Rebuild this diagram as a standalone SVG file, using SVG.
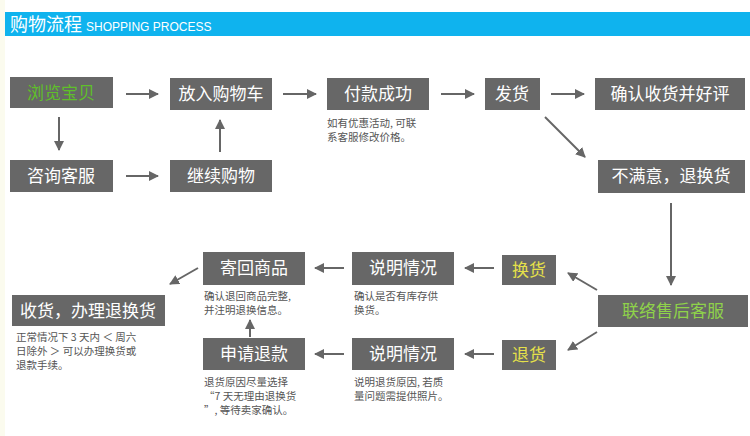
<svg xmlns="http://www.w3.org/2000/svg" width="750" height="436" viewBox="0 0 750 436">
<style>
.b{fill:#676767}
.t{font-family:"Noto Sans CJK SC",sans-serif;font-size:17px;fill:#fff;text-anchor:middle}
.s{font-family:"Noto Sans CJK SC",sans-serif;font-size:10.5px;fill:#555}
.c line{stroke:#666;stroke-width:2;marker-end:url(#a)}
</style>
<defs><marker id="a" viewBox="0 0 10 10" refX="9" refY="5" markerWidth="5" markerHeight="5" orient="auto"><path d="M0,0L10,5L0,10z" fill="#666"/></marker></defs>
<rect width="750" height="436" fill="#fff"/>
<rect x="0" y="0" width="5" height="436" fill="#fbfbee"/>
<rect x="5" y="12" width="745" height="24" fill="#0fb3ee"/>
<text x="10" y="31" font-family="Noto Sans CJK SC,sans-serif" font-size="18" fill="#fff">购物流程 <tspan font-family="Liberation Sans,sans-serif" font-size="12">SHOPPING PROCESS</tspan></text>
<g id="n1"><rect class="b" x="10" y="77" width="103" height="31"/><text class="t" x="61" y="99" style="fill:#5fbf2a">浏览宝贝</text></g>
<g id="n2"><rect class="b" x="170" y="78" width="102" height="32"/><text class="t" x="221" y="100">放入购物车</text></g>
<g id="n3"><rect class="b" x="327" y="78" width="102" height="32"/><text class="t" x="378" y="100">付款成功</text><text class="s" x="327" y="127">如有优惠活动, 可联</text><text class="s" x="327" y="141">系客服修改价格。</text></g>
<g id="n4"><rect class="b" x="485" y="78" width="55" height="32"/><text class="t" x="512" y="100">发货</text></g>
<g id="n5"><rect class="b" x="595" y="78" width="150" height="32"/><text class="t" x="670" y="100">确认收货并好评</text></g>
<g id="n6"><rect class="b" x="10" y="160" width="103" height="32"/><text class="t" x="61" y="182">咨询客服</text></g>
<g id="n7"><rect class="b" x="170" y="160" width="102" height="32"/><text class="t" x="221" y="182">继续购物</text></g>
<g id="n8"><rect class="b" x="598" y="160" width="147" height="33"/><text class="t" x="671" y="182">不满意，退换货</text></g>
<g id="n9"><rect class="b" x="203" y="252" width="102" height="33"/><text class="t" x="254" y="274">寄回商品</text><text class="s" x="204" y="300">确认退回商品完整,</text><text class="s" x="204" y="314">并注明退换信息。</text></g>
<g id="n10"><rect class="b" x="352" y="252" width="102" height="33"/><text class="t" x="403" y="274">说明情况</text><text class="s" x="354" y="300">确认是否有库存供</text><text class="s" x="354" y="314">换货。</text></g>
<g id="n11"><rect class="b" x="502" y="255" width="54" height="30"/><text class="t" x="529" y="276" style="fill:#e5e04a">换货</text></g>
<g id="n12"><rect class="b" x="12" y="295" width="153" height="31"/><text class="t" x="88" y="317">收货，办理退换货</text><text class="s" x="16" y="341">正常情况下 3 天内 ＜ 周六</text><text class="s" x="16" y="355">日除外 ＞ 可以办理换货或</text><text class="s" x="16" y="369">退款手续。</text></g>
<g id="n13"><rect class="b" x="598" y="295" width="150" height="32"/><text class="t" x="673" y="317" style="fill:#8fd24a">联络售后客服</text></g>
<g id="n14"><rect class="b" x="203" y="338" width="102" height="32"/><text class="t" x="254" y="360">申请退款</text><text class="s" x="204" y="386">退货原因尽量选择</text><text class="s" x="204" y="400">“7 天无理由退换货</text><text class="s" x="204" y="414">”, 等待卖家确认。</text></g>
<g id="n15"><rect class="b" x="352" y="338" width="102" height="32"/><text class="t" x="403" y="360">说明情况</text><text class="s" x="354" y="386">说明退货原因, 若质</text><text class="s" x="354" y="400">量问题需提供照片。</text></g>
<g id="n16"><rect class="b" x="502" y="340" width="54" height="30"/><text class="t" x="529" y="361" style="fill:#e5e04a">退货</text></g>
<g class="c">
<line x1="126" y1="94" x2="158" y2="94"/>
<line x1="283" y1="94" x2="316" y2="94"/>
<line x1="441" y1="94" x2="474" y2="94"/>
<line x1="551" y1="94" x2="584" y2="94"/>
<line x1="59" y1="117" x2="59" y2="150"/>
<line x1="126" y1="176" x2="158" y2="176"/>
<line x1="220" y1="152" x2="220" y2="120"/>
<line x1="545" y1="117" x2="585" y2="157"/>
<line x1="671" y1="203" x2="671" y2="285"/>
<line x1="597" y1="290" x2="568" y2="273"/>
<line x1="597" y1="332" x2="568" y2="350"/>
<line x1="494" y1="268" x2="465" y2="268"/>
<line x1="494" y1="354" x2="465" y2="354"/>
<line x1="344" y1="268" x2="315" y2="268"/>
<line x1="344" y1="354" x2="315" y2="354"/>
<line x1="250" y1="337" x2="250" y2="320"/>
<line x1="198" y1="268" x2="170" y2="284"/>
</g>
</svg>
